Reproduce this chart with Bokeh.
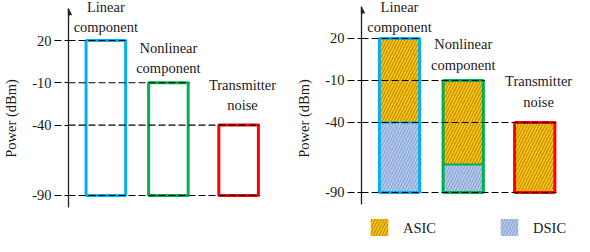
from bokeh.plotting import figure
from bokeh.layouts import row
from bokeh.models import (Range1d, FixedTicker, Arrow, NormalHead, Legend,
                          LegendItem, ColumnDataSource)
from bokeh.core.properties import value
from bokeh.embed import file_html
from bokeh.resources import INLINE

# ---------------- data ----------------
categories = ["Linear\ncomponent", "Nonlinear\ncomponent", "Transmitter\nnoise"]
power_top = [20, -10, -40]          # dBm, top of each component
power_floor = -90                   # dBm, bottom of all components
asic_floor = [-40, -70, -90]        # ASIC suppresses from top down to here; DSIC below
y_ticks = [20, -10, -40, -90]
y_tick_labels = ["20", "-10", "-40", "-90"]
legend_labels = ["ASIC", "DSIC"]

# ---------------- layout / style ----------------
SLOTS = [0.0, 0.98, 2.08]
BAR_W = 0.62
LABEL_DX = [0.0, 0.0, 0.06]
X_START = -0.585
PX_PER_UNIT = 65.0
BAR_COLORS = ["#00B0F0", "#00B050", "#FF0000"]
ASIC_FILL = "#FFC000"
DSIC_FILL = "#B4C7E7"
FONT = "Liberation Serif"
FS = "14.5px"
AXIS_TOP = 42.5
AXIS_BOTTOM = -98.5


def make_panel(width, border_left, y_start, y_end, stacked, lifts):
    frame_w = width - border_left
    x_end = X_START + frame_w / PX_PER_UNIT
    p = figure(width=width, height=236, x_range=Range1d(X_START, x_end),
               y_range=Range1d(y_start, y_end), x_axis_location=None,
               toolbar_location=None, output_backend="svg",
               min_border_left=border_left, min_border_right=0,
               min_border_top=0, min_border_bottom=0,
               outline_line_color=None)
    p.grid.visible = False

    ax = p.yaxis[0]
    ax.ticker = FixedTicker(ticks=y_ticks, minor_ticks=[])
    ax.major_label_overrides = {t: s for t, s in zip(y_ticks, y_tick_labels)}
    ax.bounds = (AXIS_BOTTOM, AXIS_TOP)
    ax.axis_line_color = "#222222"
    ax.axis_line_width = 1.3
    ax.major_tick_out = 14
    ax.major_tick_in = 0
    ax.major_tick_line_color = "black"
    ax.major_tick_line_width = 1.2
    ax.major_tick_line_dash = "7 3"
    ax.minor_tick_line_color = None
    ax.major_label_standoff = 3
    ax.major_label_text_font = FONT
    ax.major_label_text_font_size = FS
    ax.major_label_text_color = "#1a1a1a"
    ax.axis_label = "Power (dBm)"
    ax.axis_label_text_font = FONT
    ax.axis_label_text_font_size = FS
    ax.axis_label_text_font_style = "normal"
    ax.axis_label_text_color = "#1a1a1a"
    ax.axis_label_standoff = 10

    p.add_layout(Arrow(end=NormalHead(size=6, fill_color="#222222", line_color="#222222"),
                       x_start=X_START, y_start=AXIS_TOP - 6, x_end=X_START, y_end=AXIS_TOP,
                       line_color="#222222", line_width=1.3))

    left = [s - BAR_W / 2 for s in SLOTS]
    right = [s + BAR_W / 2 for s in SLOTS]

    if stacked:
        asic = ColumnDataSource(dict(left=left, right=right, bottom=asic_floor, top=power_top))
        r_asic = p.quad(left="left", right="right", bottom="bottom", top="top", source=asic,
                        fill_color=ASIC_FILL, line_color=None, hatch_pattern="/",
                        hatch_color="#4a4a4a", hatch_scale=6, hatch_weight=0.6, hatch_alpha=0.8)
        idx = [i for i in range(len(categories)) if asic_floor[i] > power_floor]
        dsic = ColumnDataSource(dict(left=[left[i] for i in idx], right=[right[i] for i in idx],
                                     bottom=[power_floor] * len(idx),
                                     top=[asic_floor[i] for i in idx],
                                     color=[BAR_COLORS[i] for i in idx]))
        r_dsic = p.quad(left="left", right="right", bottom="bottom", top="top", source=dsic,
                        fill_color=DSIC_FILL, line_color=None, hatch_pattern="/",
                        hatch_color="#4f74c4", hatch_scale=6, hatch_weight=0.6, hatch_alpha=0.8)
        p.segment(x0="left", x1="right", y0="top", y1="top", source=dsic,
                  line_color="color", line_width=2.2)
        legend = Legend(items=[LegendItem(label=legend_labels[0], renderers=[r_asic]),
                               LegendItem(label=legend_labels[1], renderers=[r_dsic])],
                        orientation="horizontal", location=(7, -5),
                        glyph_width=22, glyph_height=25, label_height=25,
                        label_standoff=13, spacing=62, padding=0, margin=0,
                        border_line_color=None, background_fill_alpha=0,
                        label_text_font=FONT, label_text_font_size=FS,
                        label_text_color="#1a1a1a")
        p.add_layout(legend)

    p.quad(left=left, right=right, bottom=[power_floor] * len(categories), top=power_top,
           fill_color=None, line_color=BAR_COLORS, line_width=3)

    # dashed level lines
    half_line = 1.5 / PX_PER_UNIT
    x1 = []
    for t in y_ticks:
        x1.append(max(right[i] for i in range(len(categories)) if power_top[i] >= t) + half_line)
    p.segment(x0=[X_START] * len(y_ticks), x1=x1, y0=y_ticks, y1=y_ticks,
              line_color="black", line_width=1.2, line_dash="7 3")

    # labels
    lbl = ColumnDataSource(dict(x=[s + d for s, d in zip(SLOTS, LABEL_DX)], y=power_top,
                                text=categories, off=[-l for l in lifts]))
    p.text(x="x", y="y", text="text", y_offset="off", source=lbl,
           text_align="center", text_baseline="middle", text_font=value(FONT),
           text_font_size=value(FS), text_color="#1a1a1a", text_line_height=1.26)
    return p


p1 = make_panel(287, 64, -119.10, 48.39, stacked=False, lifts=[23.5, 25, 30])
p2 = make_panel(287, 74, -121.43, 47.14, stacked=True, lifts=[21.5, 26, 31])
layout = row(p1, p2)

open("out.html", "w").write(file_html(layout, INLINE))
